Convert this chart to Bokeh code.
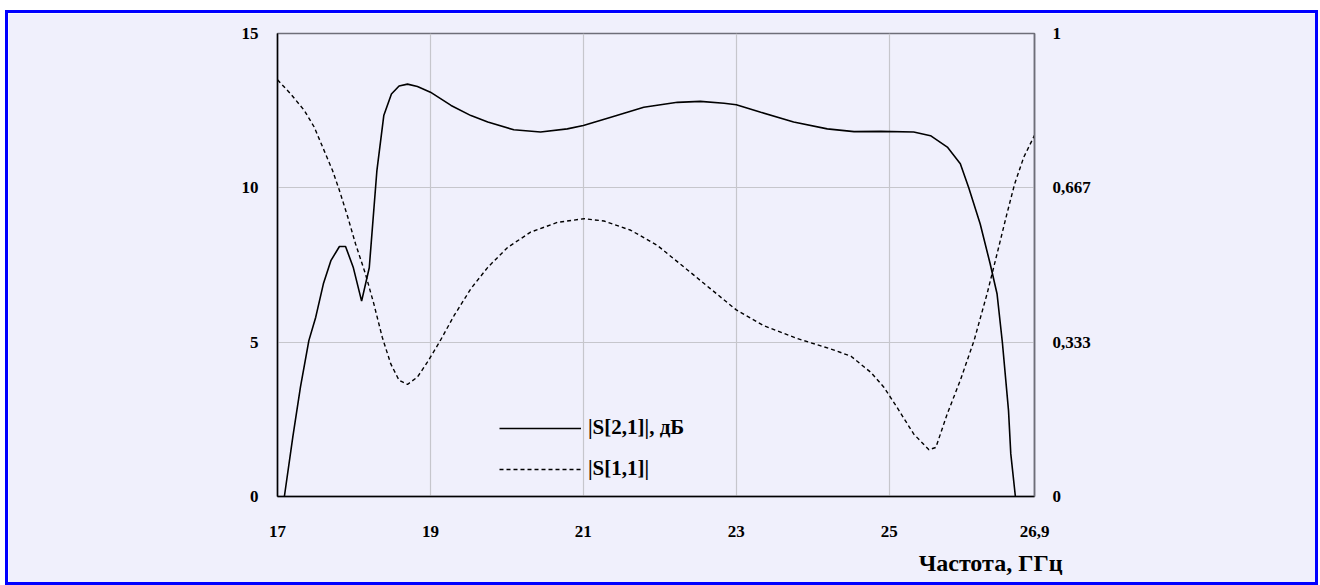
from bokeh.plotting import figure
from bokeh.models import (Range1d, LinearAxis, FixedTicker, Legend, LegendItem, Title)
from bokeh.embed import file_html
from bokeh.resources import INLINE

# ---- data ----
freq_s21 = [17.09, 17.20, 17.30, 17.41, 17.50, 17.60, 17.70, 17.81, 17.89, 17.99,
            18.10, 18.20, 18.30, 18.39, 18.49, 18.59, 18.70, 18.83, 19.00, 19.27,
            19.53, 19.75, 20.09, 20.44, 20.79, 21.00, 21.36, 21.79, 22.23, 22.53,
            22.84, 23.00, 23.32, 23.75, 24.19, 24.54, 24.89, 25.32, 25.54, 25.76,
            25.93, 26.04, 26.19, 26.32, 26.41, 26.48, 26.56, 26.59, 26.65]
s21_db = [0.0, 1.92, 3.54, 5.05, 5.81, 6.89, 7.65, 8.10, 8.10, 7.43,
          6.33, 7.41, 10.56, 12.34, 13.04, 13.30, 13.36, 13.28, 13.10, 12.67,
          12.34, 12.13, 11.88, 11.81, 11.91, 12.02, 12.29, 12.61, 12.77, 12.80,
          12.74, 12.69, 12.45, 12.13, 11.91, 11.82, 11.83, 11.81, 11.69, 11.32,
          10.78, 10.00, 8.83, 7.54, 6.57, 4.99, 2.79, 1.38, 0.0]

freq_s11 = [17.00, 17.17, 17.35, 17.48, 17.61, 17.72, 17.81, 17.92, 18.02, 18.15,
            18.26, 18.37, 18.48, 18.59, 18.70, 18.83, 18.96, 19.13, 19.31, 19.53,
            19.75, 20.01, 20.31, 20.66, 21.01, 21.27, 21.62, 21.97, 22.32, 22.66,
            23.00, 23.36, 23.80, 24.23, 24.50, 24.76, 24.93, 25.10, 25.32, 25.52,
            25.61, 25.76, 25.93, 26.11, 26.28, 26.41, 26.54, 26.64, 26.76, 26.90]
s11_mag = [0.900, 0.870, 0.834, 0.798, 0.747, 0.704, 0.661, 0.603, 0.546, 0.481,
           0.416, 0.344, 0.287, 0.251, 0.242, 0.258, 0.290, 0.337, 0.391, 0.449,
           0.495, 0.538, 0.571, 0.592, 0.600, 0.595, 0.575, 0.542, 0.495, 0.449,
           0.403, 0.369, 0.341, 0.319, 0.303, 0.268, 0.236, 0.193, 0.135, 0.101,
           0.106, 0.179, 0.251, 0.337, 0.438, 0.524, 0.611, 0.675, 0.733, 0.780]

x_ticks = [17, 19, 21, 23, 25, 26.9]
x_tick_labels = ["17", "19", "21", "23", "25", "26,9"]
left_ticks = [0, 5, 10, 15]
right_ticks = [0, 1/3, 2/3, 1]
right_tick_labels = ["0", "0,333", "0,667", "1"]
series_names = ["|S[2,1]|, дБ", "|S[1,1]|"]
x_title = "Частота, ГГц"

# ---- styles ----
BG = "#f0f0fc"
FONT = "Liberation Serif"
TICK_SIZE = "17px"

p = figure(width=1313, height=575, output_backend="svg", toolbar_location=None,
           x_range=Range1d(17, 26.9), y_range=Range1d(0, 15),
           min_border_left=269, min_border_right=287, min_border_top=20, min_border_bottom=92,
           background_fill_color=BG, border_fill_color=BG,
           outline_line_color="#6e6e78", outline_line_width=1.5)
p.styles = {"border": "3px solid #0000ff", "margin-left": "5px", "margin-top": "10px"}
p.extra_y_ranges = {"s11": Range1d(0, 1)}

p.xaxis.ticker = FixedTicker(ticks=x_ticks)
p.xaxis.major_label_overrides = {t: l for t, l in zip(x_ticks, x_tick_labels)}
p.yaxis.ticker = FixedTicker(ticks=left_ticks)

raxis = LinearAxis(y_range_name="s11", ticker=FixedTicker(ticks=right_ticks),
                   major_label_overrides={t: l for t, l in zip(right_ticks, right_tick_labels)})
p.add_layout(raxis, "right")

for ax in [p.xaxis[0], p.yaxis[0], raxis]:
    ax.major_tick_line_color = None
    ax.minor_tick_line_color = None
    ax.major_label_text_font = FONT
    ax.major_label_text_font_style = "bold"
    ax.major_label_text_font_size = TICK_SIZE
    ax.major_label_text_color = "black"
    ax.axis_line_width = 1.5

p.xaxis.axis_line_color = "black"
p.yaxis.axis_line_color = "black"
raxis.axis_line_color = "#6e6e78"
p.xaxis.major_label_standoff = 23
p.yaxis.major_label_standoff = 13
raxis.major_label_standoff = 12

p.xgrid.grid_line_color = "#c6c6cc"
p.ygrid.grid_line_color = "#c6c6cc"
p.xgrid.grid_line_width = 1.2
p.ygrid.grid_line_width = 1.2
p.ygrid.ticker = FixedTicker(ticks=left_ticks)

r1 = p.line(freq_s21, s21_db, line_color="black", line_width=1.6)
r2 = p.line(freq_s11, s11_mag, y_range_name="s11", line_color="black",
            line_width=1.4, line_dash="4 3")

legend = Legend(items=[LegendItem(label=series_names[0], renderers=[r1]),
                       LegendItem(label=series_names[1], renderers=[r2])],
                location=(222, 15), orientation="vertical",
                glyph_width=82, glyph_height=22, label_height=22, spacing=16,
                padding=0, margin=0, label_standoff=7,
                border_line_color=None, background_fill_alpha=0,
                label_text_font=FONT, label_text_font_style="bold",
                label_text_font_size="21px", label_text_color="black")
p.add_layout(legend)

title = Title(text=x_title, align="right", offset=-28, standoff=16,
              text_font=FONT, text_font_style="bold", text_font_size="24px",
              text_color="black")
p.add_layout(title, "below")

open("out.html", "w").write(file_html(p, INLINE))
